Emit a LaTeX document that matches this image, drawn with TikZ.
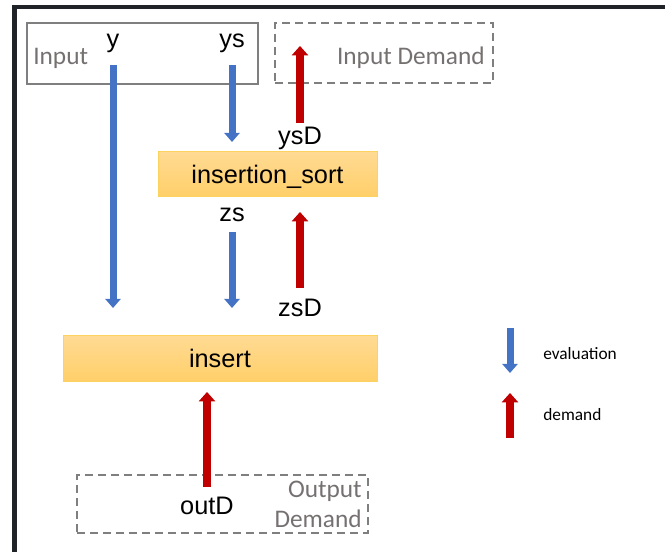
\documentclass[tikz,border=0pt]{standalone}
\usepackage{fontspec}
\setmainfont{Liberation Sans}
\newfontfamily\calibri{Carlito}
\usetikzlibrary{arrows.meta}
\definecolor{evalblue}{HTML}{4472C4}
\definecolor{demandred}{HTML}{C00000}
\definecolor{boxgray}{HTML}{7F7F7F}
\definecolor{textgray}{HTML}{767171}
\definecolor{goldtop}{HTML}{FFDA93}
\definecolor{goldbot}{HTML}{FFCF68}
\definecolor{goldline}{HTML}{FCD35E}
\definecolor{framedark}{HTML}{202428}
\tikzset{x=0.75pt, y=-0.75pt,
  lbl/.style={font=\fontsize{19}{22}\selectfont, inner sep=0pt, anchor=base},
  graylbl/.style={font=\calibri\fontsize{19}{22}\selectfont, text=textgray, inner sep=0pt},
  legendlbl/.style={font=\calibri\fontsize{13}{15}\selectfont, inner sep=0pt, anchor=base west},
  funbox/.style={draw=goldline, line width=0.75pt, top color=goldtop, bottom color=goldbot,
    inner sep=0pt, text height=14.2pt, text depth=1pt, font=\fontsize{19}{22}\selectfont},
  inbox/.style={draw=boxgray, line width=1.5pt, inner sep=0pt},
  demandbox/.style={inbox, dash pattern=on 6pt off 3.75pt},
  evalarrow/.style={draw=evalblue, line width=5.25pt, -{Triangle[width=11.25pt,length=6.75pt]}},
  demandarrow/.style={draw=demandred, line width=5.75pt, -{Triangle[width=12pt,length=7pt]}}}

\begin{document}
\begin{tikzpicture}
  \clip (0,0) rectangle (665,552);
  \draw[framedark, line width=3.4pt] (14.5,600) |- (700,7);

  % boxes
  \node[inbox, minimum width=173.25pt, minimum height=45.75pt] (input) at (142.5,53.5) {};
  \node[demandbox, minimum width=163.5pt, minimum height=45pt] (indemand) at (384,53) {};
  \node[demandbox, minimum width=218.25pt, minimum height=43.5pt] (outdemand) at (222.5,504) {};
  \node[funbox, minimum width=164.25pt, minimum height=33.75pt] (sort) at (267.5,174.5) {insertion\_sort};
  \node[funbox, minimum width=235.5pt, minimum height=34.5pt] (insert) at (220,359) {insert};

  % box titles
  \node[graylbl, anchor=base west] (inputlbl) at (33,65) {Input};
  \node[graylbl, anchor=base east] (indemandlbl) at (485,65) {Input Demand};
  \node[graylbl, anchor=base east] (outlbl) at (362,498) {Output};
  \node[graylbl, anchor=base east] (outlbltwo) at (362,528) {Demand};

  % values
  \node[lbl] (y) at (113,48) {y};
  \node[lbl] (ys) at (232,48) {ys};
  \node[lbl] (ysD) at (300,145) {ysD};
  \node[lbl] (zs) at (232,222) {zs};
  \node[lbl] (zsD) at (300,317) {zsD};
  \node[lbl] (outD) at (207,515) {outD};

  % arrow ends
  \coordinate (yA) at (113,65);   \coordinate (yB) at (113,308);
  \coordinate (ysA) at (232,65);  \coordinate (ysB) at (232,142);
  \coordinate (ysDA) at (300,123); \coordinate (ysDB) at (300,46);
  \coordinate (zsA) at (232,232); \coordinate (zsB) at (232,308);
  \coordinate (zsDA) at (300,288); \coordinate (zsDB) at (300,212);
  \coordinate (outDA) at (207,487); \coordinate (outDB) at (207,392);

  \draw[evalarrow] (yA) -- (yB);
  \draw[evalarrow] (ysA) -- (ysB);
  \draw[evalarrow] (zsA) -- (zsB);
  \draw[demandarrow] (ysDA) -- (ysDB);
  \draw[demandarrow] (zsDA) -- (zsDB);
  \draw[demandarrow] (outDA) -- (outDB);

  % legend
  \node[legendlbl] (evallbl) at (543,360) {evaluation};
  \node[legendlbl] (demandlbl) at (543,421) {demand};
  \coordinate (evalA) at (510,328); \coordinate (evalB) at (510,373);
  \coordinate (demA) at (510,438); \coordinate (demB) at (510,393);
  \draw[evalarrow] (evalA) -- (evalB);
  \draw[demandarrow] (demA) -- (demB);
\end{tikzpicture}
\end{document}
